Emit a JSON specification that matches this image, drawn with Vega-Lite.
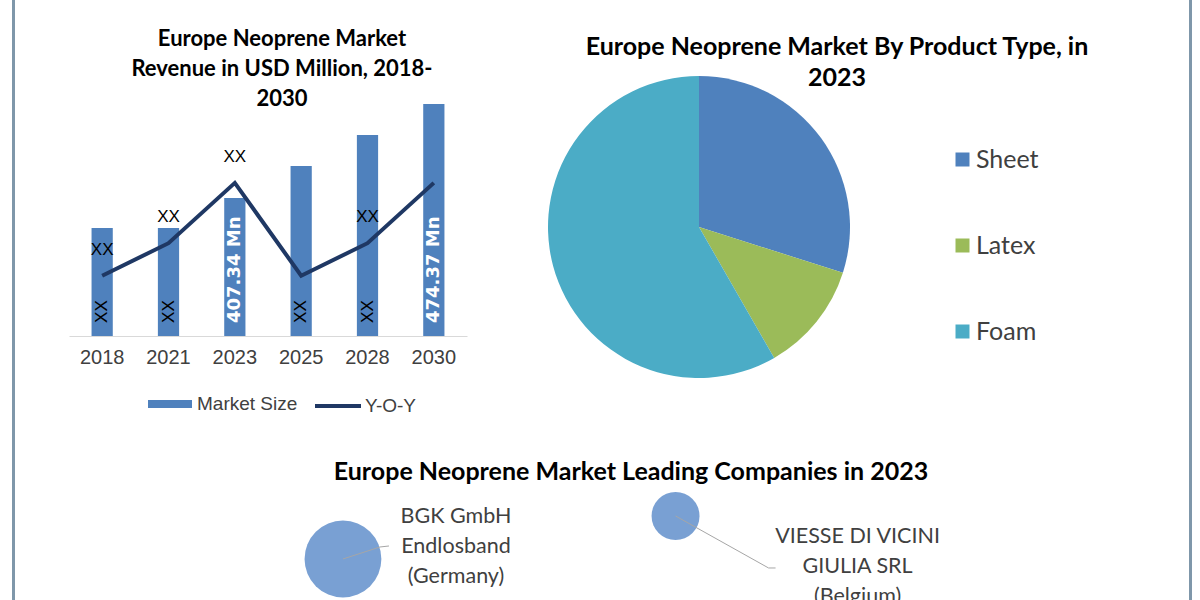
{
  "$schema": "https://vega.github.io/schema/vega-lite/v6.json",
  "padding": {"left": 12, "top": 0, "right": 0, "bottom": 0},
  "background": "white",
  "config": {"view": {"stroke": null}, "font": "Liberation Sans"},
  "spacing": 54,
  "hconcat": [
    {
      "width": 1, "height": 600,
      "view": {"stroke": "#7f97aa", "strokeWidth": 2},
      "data": {"values": []},
      "mark": {"type": "point", "opacity": 0},
      "encoding": {}
    },
    {
      "spacing": 7,
      "vconcat": [
        {
          "bounds": "flush",
          "spacing": 81,
          "hconcat": [
            {
              "width": 398, "height": 335,
              "title": {"text": ["Europe Neoprene Market", "Revenue in USD Million, 2018-", "2030"], "font": "Lato", "fontSize": 22, "fontWeight": "bold", "color": "#000000", "lineHeight": 30, "anchor": "middle", "frame": "group", "dx": 14, "offset": -110},
              "data": {"values": [
                {"year": "2018", "market_size": 385.9, "yoy": 2.6, "bar_label": "XX", "yoy_label": "XX"},
                {"year": "2021", "market_size": 385.9, "yoy": 4.0, "bar_label": "XX", "yoy_label": "XX"},
                {"year": "2023", "market_size": 407.34, "yoy": 6.6, "bar_label": "407.34 Mn", "yoy_label": "XX"},
                {"year": "2025", "market_size": 430.2, "yoy": 2.6, "bar_label": "XX", "yoy_label": ""},
                {"year": "2028", "market_size": 452.3, "yoy": 4.0, "bar_label": "XX", "yoy_label": "XX"},
                {"year": "2030", "market_size": 474.37, "yoy": 6.6, "bar_label": "474.37 Mn", "yoy_label": ""}
              ]},
              "encoding": {
                "x": {"field": "year", "type": "ordinal", "scale": {"paddingInner": 0.68, "paddingOuter": 0.34},
                      "axis": {"title": null, "labelAngle": 0, "labelFont": "Liberation Sans", "labelFontSize": 20, "labelColor": "#404040", "ticks": false, "domainColor": "#d9d9d9", "labelPadding": 11, "grid": false}}
              },
              "layer": [
                {
                  "layer": [
                    {
                      "mark": {"type": "bar"},
                      "encoding": {
                        "y": {"field": "market_size", "type": "quantitative", "scale": {"domain": [308.9, 547.8], "zero": false, "nice": false}, "axis": null},
                        "y2": {"datum": 308.9},
                        "fill": {"datum": "Market Size", "type": "nominal", "scale": {"domain": ["Market Size"], "range": ["#4f81bd"]},
                                 "legend": {"orient": "none", "legendX": 134, "legendY": 380, "title": null, "symbolType": "M-1,-0.18H1V0.18H-1Z", "symbolSize": 1936, "labelFont": "Liberation Sans", "labelFontSize": 19, "labelColor": "#404040", "labelOffset": 4}}
                      }
                    },
                    {
                      "transform": [{"filter": "datum.bar_label == 'XX'"}],
                      "mark": {"type": "text", "angle": 270, "align": "left", "baseline": "middle", "font": "Liberation Sans", "fontSize": 17, "color": "#000000"},
                      "encoding": {"y": {"datum": 318.2, "type": "quantitative"}, "text": {"field": "bar_label"}}
                    },
                    {
                      "transform": [{"filter": "datum.bar_label != 'XX'"}],
                      "mark": {"type": "text", "angle": 270, "align": "left", "baseline": "middle", "font": "DejaVu Sans", "fontWeight": "bold", "fontSize": 18, "color": "#ffffff"},
                      "encoding": {"y": {"datum": 318.2, "type": "quantitative"}, "text": {"field": "bar_label"}}
                    }
                  ]
                },
                {
                  "layer": [
                    {
                      "mark": {"type": "line", "strokeWidth": 4},
                      "encoding": {
                        "y": {"field": "yoy", "type": "quantitative", "scale": {"domain": [0, 14.44], "nice": false}, "axis": null},
                        "stroke": {"datum": "Y-O-Y", "type": "nominal", "scale": {"domain": ["Y-O-Y"], "range": ["#1f3864"]},
                                   "legend": {"orient": "none", "legendX": 300, "legendY": 380, "title": null, "symbolType": "stroke", "symbolSize": 2116, "symbolStrokeWidth": 4, "labelFont": "Liberation Sans", "labelFontSize": 19, "labelColor": "#404040", "labelOffset": 2}}
                      }
                    },
                    {
                      "transform": [{"filter": "datum.yoy_label != ''"}],
                      "mark": {"type": "text", "dy": -26, "font": "Liberation Sans", "fontSize": 17, "color": "#000000"},
                      "encoding": {"y": {"field": "yoy", "type": "quantitative"}, "text": {"field": "yoy_label"}}
                    }
                  ]
                }
              ],
              "resolve": {"scale": {"y": "independent"}}
            },
            {
              "width": 302, "height": 452,
              "title": {"text": ["Europe Neoprene Market By Product Type, in", "2023"], "font": "Lato", "fontSize": 25, "fontWeight": "bold", "color": "#000000", "lineHeight": 31, "anchor": "middle", "frame": "group", "dx": 138, "offset": -90},
              "data": {"values": [
                {"type": "Sheet", "share": 29.9, "rank": 1},
                {"type": "Latex", "share": 11.8, "rank": 2},
                {"type": "Foam", "share": 58.3, "rank": 3}
              ]},
              "mark": {"type": "arc", "outerRadius": 151},
              "encoding": {
                "theta": {"field": "share", "type": "quantitative", "stack": true},
                "order": {"field": "rank", "type": "quantitative"},
                "color": {"field": "type", "type": "nominal", "sort": ["Sheet", "Latex", "Foam"],
                          "scale": {"domain": ["Sheet", "Latex", "Foam"], "range": ["#4f81bd", "#9bbb59", "#4bacc6"]},
                          "legend": {"orient": "none", "legendX": 937, "legendY": 146, "title": null, "symbolType": "square", "symbolSize": 196, "labelFont": "Lato", "labelFontSize": 25, "labelColor": "#404040", "rowPadding": 60, "labelOffset": 1}}
              }
            }
          ]
        },
        {
          "width": 1066, "height": 115,
          "title": {"text": "Europe Neoprene Market Leading Companies in 2023", "font": "Lato", "fontSize": 25, "fontWeight": "bold", "color": "#000000", "anchor": "middle", "frame": "group", "dx": 29, "offset": 2},
          "data": {"values": [
            {"id": "BGK", "company": "BGK GmbH\nEndlosband\n(Germany)", "x": 2.57, "y": 3.74, "size": 5.9},
            {"id": "VIESSE", "company": "VIESSE DI VICINI\nGIULIA SRL\n(Belgium)", "x": 5.69, "y": 7.48, "size": 2.3}
          ]},
          "encoding": {
            "x": {"field": "x", "type": "quantitative", "scale": {"domain": [0, 10], "nice": false, "zero": false}, "axis": null},
            "y": {"field": "y", "type": "quantitative", "scale": {"domain": [0, 10], "nice": false, "zero": false}, "axis": null}
          },
          "layer": [
            {
              "mark": {"type": "circle", "opacity": 1, "color": "#79a0d3"},
              "encoding": {"size": {"field": "size", "type": "quantitative", "scale": {"domain": [0, 10], "range": [0, 10000]}, "legend": null}}
            },
            {
              "transform": [{"filter": "datum.id == 'BGK'"}],
              "mark": {"type": "rule", "color": "#a6a6a6", "strokeWidth": 1, "x2Offset": 37, "y2Offset": -12},
              "encoding": {"x2": {"field": "x"}, "y2": {"field": "y"}}
            },
            {
              "transform": [{"filter": "datum.id == 'BGK'"}],
              "mark": {"type": "rule", "color": "#a6a6a6", "strokeWidth": 1, "xOffset": 37, "yOffset": -12, "x2Offset": 46, "y2Offset": -13},
              "encoding": {"x2": {"field": "x"}, "y2": {"field": "y"}}
            },
            {
              "transform": [{"filter": "datum.id == 'VIESSE'"}],
              "mark": {"type": "rule", "color": "#a6a6a6", "strokeWidth": 1, "x2Offset": 93, "y2Offset": 52},
              "encoding": {"x2": {"field": "x"}, "y2": {"field": "y"}}
            },
            {
              "transform": [{"filter": "datum.id == 'VIESSE'"}],
              "mark": {"type": "rule", "color": "#a6a6a6", "strokeWidth": 1, "xOffset": 93, "yOffset": 52, "x2Offset": 100, "y2Offset": 52},
              "encoding": {"x2": {"field": "x"}, "y2": {"field": "y"}}
            },
            {
              "transform": [{"filter": "datum.id == 'BGK'"}],
              "mark": {"type": "text", "lineBreak": "\n", "align": "center", "baseline": "middle", "font": "Lato", "fontSize": 21.5, "lineHeight": 30, "color": "#404040", "dx": 113, "dy": -42},
              "encoding": {"text": {"field": "company"}}
            },
            {
              "transform": [{"filter": "datum.id == 'VIESSE'"}],
              "mark": {"type": "text", "lineBreak": "\n", "align": "center", "baseline": "middle", "font": "Lato", "fontSize": 21.5, "lineHeight": 30, "color": "#404040", "dx": 182, "dy": 21},
              "encoding": {"text": {"field": "company"}}
            }
          ]
        }
      ]
    },
    {
      "width": 1, "height": 600,
      "view": {"stroke": "#7f97aa", "strokeWidth": 2},
      "data": {"values": []},
      "mark": {"type": "point", "opacity": 0},
      "encoding": {}
    }
  ]
}
